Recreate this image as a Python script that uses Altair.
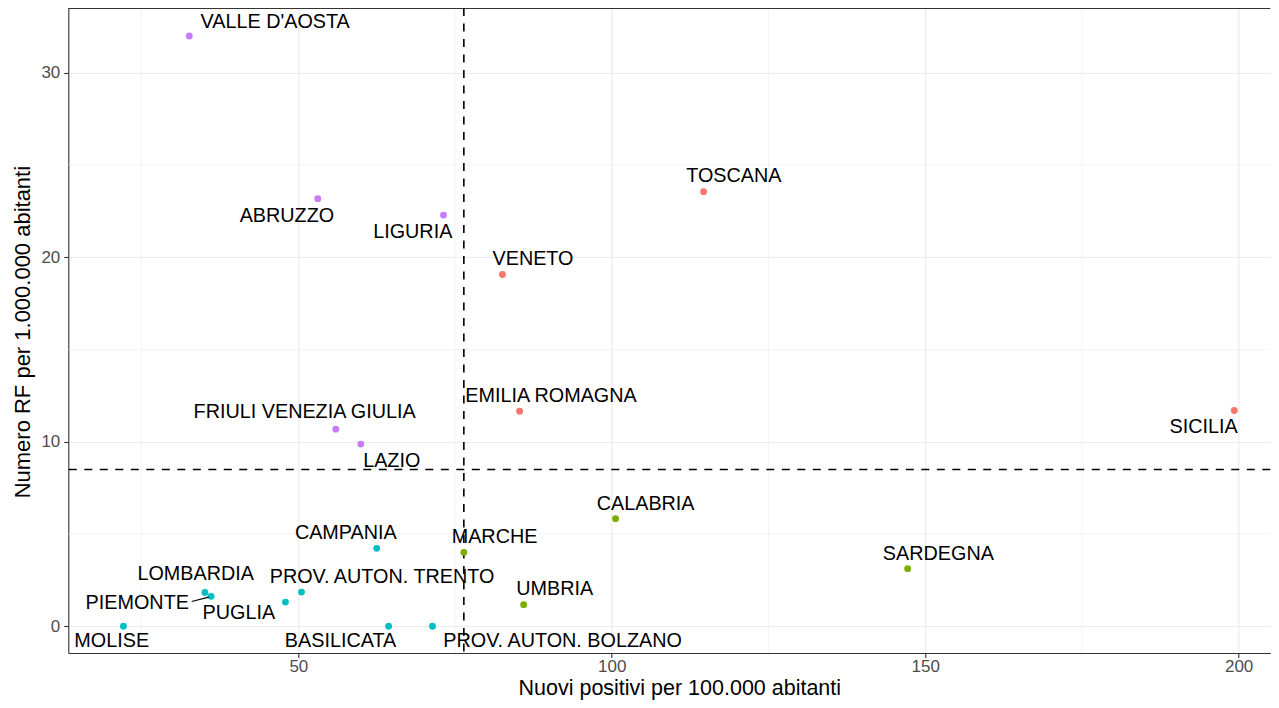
import altair as alt
import pandas as pd

# ---- data ----
regioni = ["VALLE D'AOSTA", "ABRUZZO", "LIGURIA", "TOSCANA", "VENETO", "EMILIA ROMAGNA",
           "SICILIA", "SARDEGNA", "FRIULI VENEZIA GIULIA", "LAZIO", "CALABRIA", "CAMPANIA",
           "MARCHE", "UMBRIA", "LOMBARDIA", "PIEMONTE", "PUGLIA", "PROV. AUTON. TRENTO",
           "MOLISE", "BASILICATA", "PROV. AUTON. BOLZANO"]
nuovi_positivi = [32.6, 53.1, 73.15, 114.65, 82.56, 85.3,
                  199.3, 147.2, 55.98, 59.96, 100.6, 62.5,
                  76.4, 85.94, 35.1, 36.08, 47.94, 50.5,
                  22.1, 64.4, 71.4]
numero_rf = [31.98, 23.17, 22.28, 23.55, 19.06, 11.65,
             11.69, 3.12, 10.68, 9.87, 5.83, 4.22,
             4.0, 1.17, 1.83, 1.62, 1.31, 1.85,
             0.0, 0.0, 0.0]
quadrante = ["LH", "LH", "LH", "HH", "HH", "HH",
             "HH", "HL", "LH", "LH", "HL", "LL",
             "HL", "HL", "LL", "LL", "LL", "LL",
             "LL", "LL", "LL"]
# repelled label anchor positions (data units)
label_x = [46.3, 48.17, 68.25, 119.47, 87.43, 90.3,
           194.4, 152.1, 51.0, 64.9, 105.4, 57.57,
           81.3, 90.9, 33.62, 24.3, 40.5, 63.35,
           20.23, 56.73, 92.15]
label_y = [32.73, 22.24, 21.35, 24.39, 19.89, 12.46,
           10.78, 3.94, 11.63, 8.97, 6.64, 5.03,
           4.81, 2.02, 2.85, 1.27, 0.72, 2.68,
           -0.82, -0.82, -0.82]
# leader segment (PIEMONTE)
seg_x, seg_y, seg_x2, seg_y2 = [32.99], [1.34], [35.71], [1.58]

media_x = [76.4]
media_y = [8.49]
x_breaks = [50, 100, 150, 200]
y_breaks = [0, 10, 20, 30]
x_minor = [25, 75, 125, 175]
y_minor = [5, 15, 25]

x_dom = [13.3, 205.05]
y_dom = [-1.45, 33.5]

df = pd.DataFrame({"regione": regioni, "x": nuovi_positivi, "y": numero_rf,
                   "q": quadrante, "lx": label_x, "ly": label_y})
seg = pd.DataFrame({"x": seg_x, "y": seg_y, "x2": seg_x2, "y2": seg_y2})

FONT = "Liberation Sans"
W, H = 1202, 645
xs = alt.Scale(domain=x_dom, nice=False, zero=False)
ys = alt.Scale(domain=y_dom, nice=False, zero=False)

x_axis = alt.Axis(values=x_breaks, title="Nuovi positivi per 100.000 abitanti",
                  titleX=611, titleY=42, titleBaseline="alphabetic", titleFontSize=21.5)
y_axis = alt.Axis(values=y_breaks, title="Numero RF per 1.000.000 abitanti",
                  titleX=-38.5, titleY=323.6, titleBaseline="alphabetic", titleAngle=270)


def X(field):
    return alt.X(field, type="quantitative", scale=xs, axis=x_axis)


def Y(field):
    return alt.Y(field, type="quantitative", scale=ys, axis=y_axis)


minor_x = alt.Chart(pd.DataFrame({"v": x_minor})).mark_rule(
    color="#EBEBEB", strokeWidth=0.6).encode(x=X("v"))
minor_y = alt.Chart(pd.DataFrame({"v": y_minor})).mark_rule(
    color="#EBEBEB", strokeWidth=0.6).encode(y=Y("v"))

top_border = alt.Chart(pd.DataFrame({"v": [0]})).mark_rule(
    color="#333333", strokeWidth=1.1).encode(y=alt.value(0.5))

points = alt.Chart(df).mark_circle(size=47, opacity=1).encode(
    x=X("x"), y=Y("y"),
    color=alt.Color("q:N", scale=alt.Scale(domain=["HH", "HL", "LL", "LH"],
                                           range=["#F8766D", "#7CAE00", "#00BFC4", "#C77CFF"]),
                    legend=None),
)

vline = alt.Chart(pd.DataFrame({"v": media_x})).mark_rule(
    color="black", strokeWidth=1.6, strokeDash=[8, 7.5]).encode(x=X("v"))
hline = alt.Chart(pd.DataFrame({"v": media_y})).mark_rule(
    color="black", strokeWidth=1.6, strokeDash=[8, 7.5]).encode(y=Y("v"))

labels = alt.Chart(df).mark_text(font=FONT, fontSize=19.8, color="black",
                                 align="center", baseline="middle").encode(
    x=X("lx"), y=Y("ly"), text="regione:N")

segment = alt.Chart(seg).mark_rule(color="black", strokeWidth=1.2).encode(
    x=X("x"), y=Y("y"), x2="x2:Q", y2="y2:Q")

chart = alt.layer(minor_x, minor_y, top_border, vline, hline, points, segment, labels).properties(
    width=W, height=H,
    autosize=alt.AutoSizeParams(type="none"),
    padding={"left": 60.3, "top": 0, "right": 0.5, "bottom": 47},
).configure_view(stroke=None).configure_axis(
    grid=True, gridColor="#EBEBEB", gridWidth=1.2,
    domain=True, domainColor="#333333", domainWidth=1.1,
    tickColor="#333333", tickSize=4.5, tickWidth=1.1,
    labelFont=FONT, labelFontSize=17, labelColor="#4D4D4D",
    titleFont=FONT, titleFontSize=22, titleColor="black", titleFontWeight="normal",
).configure_axisX(labelPadding=1).configure_axisY(labelPadding=4)

chart.save("out.html", embed_options={"renderer": "svg", "actions": False})
